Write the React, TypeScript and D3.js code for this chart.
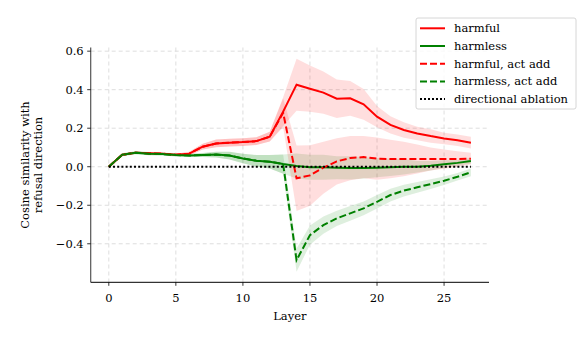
import React from 'react';
import * as d3 from 'd3';

const layers = d3.range(0, 28);

const harmful = [0, 0.062, 0.073, 0.07, 0.068, 0.062, 0.068, 0.104, 0.121, 0.125, 0.128, 0.133, 0.156, 0.286,
  0.426, 0.405, 0.385, 0.353, 0.355, 0.324, 0.26, 0.217, 0.191, 0.173, 0.159, 0.147, 0.137, 0.125];
const harmfulStd = [0, 0.005, 0.005, 0.005, 0.005, 0.005, 0.01, 0.015, 0.02, 0.02, 0.02, 0.02, 0.025, 0.075,
  0.135, 0.12, 0.11, 0.1, 0.09, 0.08, 0.055, 0.045, 0.04, 0.035, 0.035, 0.03, 0.03, 0.03];

const harmless = [0, 0.062, 0.073, 0.068, 0.066, 0.061, 0.058, 0.061, 0.063, 0.058, 0.043, 0.031, 0.026, 0.014,
  0.004, -0.003, -0.003, -0.005, -0.006, -0.006, -0.005, -0.003, 0.0, 0.0, 0.005, 0.013, 0.02, 0.03];
const harmlessStd = [0, 0.008, 0.008, 0.008, 0.008, 0.008, 0.008, 0.01, 0.015, 0.02, 0.025, 0.03, 0.035, 0.05,
  0.065, 0.065, 0.065, 0.06, 0.06, 0.055, 0.05, 0.045, 0.04, 0.03, 0.025, 0.02, 0.015, 0.015];

const harmfulAdd = [0, 0.062, 0.073, 0.07, 0.068, 0.062, 0.068, 0.104, 0.121, 0.125, 0.128, 0.133, 0.156, 0.28,
  -0.06, -0.045, -0.005, 0.028, 0.045, 0.05, 0.042, 0.04, 0.04, 0.04, 0.04, 0.04, 0.04, 0.042];
const harmfulAddStd = [0, 0.005, 0.005, 0.005, 0.005, 0.005, 0.01, 0.015, 0.02, 0.02, 0.02, 0.02, 0.025, 0.075,
  0.17, 0.157, 0.135, 0.12, 0.115, 0.11, 0.11, 0.1, 0.09, 0.075, 0.06, 0.05, 0.04, 0.03];

const harmlessAdd = [0, 0.062, 0.073, 0.068, 0.066, 0.061, 0.058, 0.061, 0.063, 0.058, 0.043, 0.031, 0.026, 0.014,
  -0.485, -0.355, -0.303, -0.268, -0.242, -0.216, -0.182, -0.147, -0.124, -0.107, -0.09, -0.073, -0.052, -0.029];
const harmlessAddStd = [0, 0.008, 0.008, 0.008, 0.008, 0.008, 0.008, 0.01, 0.015, 0.02, 0.025, 0.03, 0.035, 0.05,
  0.06, 0.05, 0.045, 0.04, 0.038, 0.036, 0.035, 0.033, 0.03, 0.028, 0.025, 0.022, 0.02, 0.02];

const ablation = layers.map(() => 0);

const xTicks = [0, 5, 10, 15, 20, 25];
const yTicks = [-0.4, -0.2, 0, 0.2, 0.4, 0.6];

const series = [
  { name: 'harmful', values: harmful, std: harmfulStd, color: 'red', dash: '' },
  { name: 'harmless', values: harmless, std: harmlessStd, color: 'green', dash: '' },
  { name: 'harmful, act add', values: harmfulAdd, std: harmfulAddStd, color: 'red', dash: '7,3' },
  { name: 'harmless, act add', values: harmlessAdd, std: harmlessAddStd, color: 'green', dash: '7,3' },
];

const font = "'DejaVu Serif', 'Liberation Serif', serif";
const fs = 11.5;

export default function App() {
  const x = d3.scaleLinear().domain([-1.35, 28.35]).range([90.7, 489]);
  const y = d3.scaleLinear().domain([-0.6, 0.619]).range([282.3, 47.5]);

  const line = (vals: number[]) =>
    d3.line<number>().x((_, i) => x(layers[i])).y(d => y(d))(vals) || '';
  const band = (vals: number[], sd: number[]) =>
    d3.area<number>()
      .x((_, i) => x(layers[i]))
      .y0((d, i) => y(d - sd[i]))
      .y1((d, i) => y(d + sd[i]))(vals) || '';

  const fmt = (v: number) => (v < 0 ? '\u2212' : '') + Math.abs(v).toFixed(1);

  const legendItems = [
    ...series.map(s => ({ name: s.name, color: s.color, dash: s.dash })),
    { name: 'directional ablation', color: 'black', dash: '2,2' },
  ];

  return (
    <svg width={581} height={339} style={{ position: 'absolute', left: 0, top: 0, background: 'white', fontFamily: font }}>
      {/* grid */}
      {xTicks.map(t => (
        <line key={'gx' + t} x1={x(t)} x2={x(t)} y1={y.range()[1]} y2={y.range()[0]}
          stroke="#d6d6d6" strokeWidth={0.8} strokeDasharray="4,3" />
      ))}
      {yTicks.map(t => (
        <line key={'gy' + t} x1={x.range()[0]} x2={x.range()[1]} y1={y(t)} y2={y(t)}
          stroke="#d6d6d6" strokeWidth={0.8} strokeDasharray="4,3" />
      ))}

      {/* bands */}
      {series.map(s => (
        <path key={'b' + s.name} d={band(s.values, s.std)} fill={s.color} fillOpacity={0.13} stroke="none" />
      ))}

      {/* lines */}
      {series.map(s => (
        <path key={'l' + s.name} d={line(s.values)} fill="none" stroke={s.color} strokeWidth={2}
          strokeDasharray={s.dash || undefined} />
      ))}
      <path d={line(ablation)} fill="none" stroke="black" strokeWidth={2} strokeDasharray="2,2.2" />

      {/* axes */}
      <line x1={x.range()[0]} x2={x.range()[0]} y1={y.range()[1]} y2={y.range()[0]} stroke="#555" strokeWidth={1.2} />
      <line x1={x.range()[0]} x2={x.range()[1]} y1={y.range()[0]} y2={y.range()[0]} stroke="black" strokeWidth={1} />
      {xTicks.map(t => (
        <g key={'xt' + t}>
          <line x1={x(t)} x2={x(t)} y1={y.range()[0]} y2={y.range()[0] + 3.5} stroke="black" strokeWidth={0.8} />
          <text x={x(t)} y={302} fontSize={fs} textAnchor="middle">{t}</text>
        </g>
      ))}
      {yTicks.map(t => (
        <g key={'yt' + t}>
          <line x1={x.range()[0] - 3.5} x2={x.range()[0]} y1={y(t)} y2={y(t)} stroke="black" strokeWidth={0.8} />
          <text x={x.range()[0] - 7} y={y(t) + 4} fontSize={fs} textAnchor="end">{fmt(t)}</text>
        </g>
      ))}
      <text x={(x.range()[0] + x.range()[1]) / 2} y={320} fontSize={fs} textAnchor="middle">Layer</text>
      <text transform={`translate(29,165) rotate(-90)`} fontSize={fs} textAnchor="middle">
        <tspan x={0} dy={0}>Cosine similarity with</tspan>
        <tspan x={0} dy={12.5}>refusal direction</tspan>
      </text>

      {/* legend */}
      <rect x={416} y={18} width={160} height={91} rx={2} fill="white" fillOpacity={0.8} stroke="#ccc" strokeWidth={0.8} />
      {legendItems.map((it, i) => {
        const cy = 28.3 + i * 17.7;
        return (
          <g key={'lg' + it.name}>
            <line x1={420} x2={445} y1={cy} y2={cy} stroke={it.color} strokeWidth={2}
              strokeDasharray={it.dash || undefined} />
            <text x={454} y={cy + 4} fontSize={fs}>{it.name}</text>
          </g>
        );
      })}
    </svg>
  );
}
